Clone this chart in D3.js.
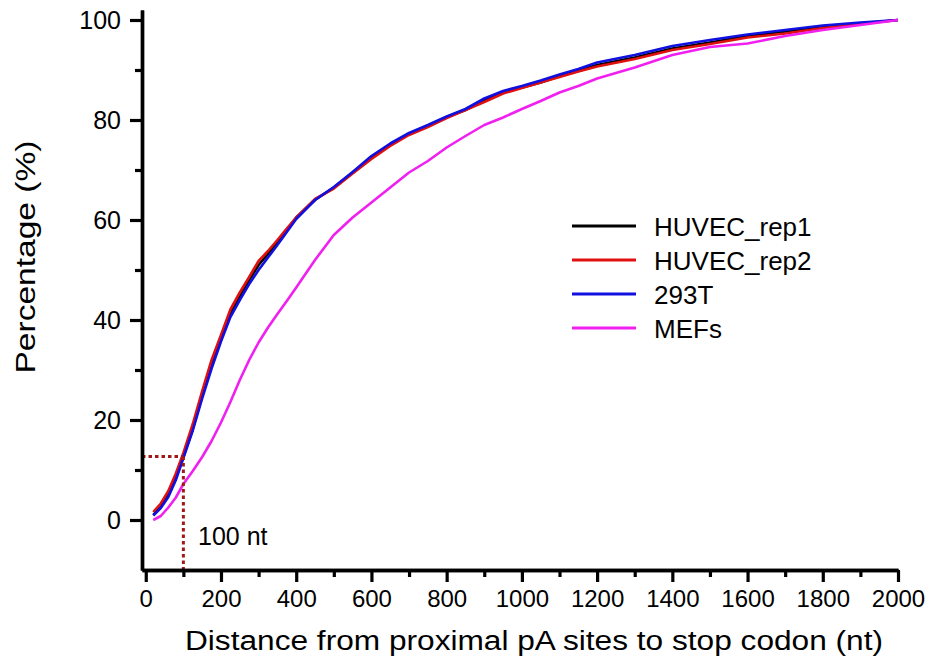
<!DOCTYPE html>
<html>
<head>
<meta charset="utf-8">
<script src="https://cdn.jsdelivr.net/npm/d3@7"></script>
<style>
  body { margin: 0; background: #fff; }
  text { font-family: "Liberation Sans", Arial, sans-serif; fill: #000; }
</style>
</head>
<body>
<script>
var distances = [20, 40, 60, 80, 100, 125, 150, 175, 200, 225, 250, 275, 300, 325, 350, 375, 400,
  450, 500, 550, 600, 650, 700, 750, 800, 850, 900, 950, 1000, 1050, 1100, 1150, 1200,
  1300, 1400, 1500, 1600, 1700, 1800, 1900, 2000];

var huvec1 = [1.0, 2.6, 5.0, 8.5, 12.6, 18.2, 24.8, 31.0, 36.2, 41.3, 44.8, 48.0, 51.0, 53.2, 55.5, 58.0, 60.5,
  64.0, 66.5, 69.5, 72.5, 75.0, 77.2, 78.8, 80.6, 82.0, 84.0, 85.5, 86.5, 87.5, 88.8, 89.8, 91.0,
  92.5, 94.3, 95.5, 96.8, 97.7, 98.7, 99.3, 100];
var huvec2 = [1.6, 3.3, 5.8, 9.3, 13.4, 19.2, 25.8, 32.0, 37.0, 42.1, 45.5, 48.6, 51.8, 53.8, 56.0, 58.3, 60.5,
  64.2, 66.3, 69.3, 72.2, 74.8, 77.0, 78.6, 80.4, 82.0, 83.6, 85.3, 86.4, 87.5, 88.6, 89.7, 90.7,
  92.2, 94.0, 95.2, 96.5, 97.3, 98.4, 99.2, 100];
var t293 = [0.9, 2.4, 4.6, 8.0, 12.4, 17.9, 24.3, 30.3, 35.7, 40.6, 44.0, 47.2, 50.0, 52.5, 55.0, 57.6, 60.2,
  64.0, 66.6, 69.6, 72.8, 75.3, 77.4, 79.0, 80.7, 82.2, 84.3, 85.8, 86.8, 87.9, 89.1, 90.2, 91.5,
  93.0, 94.8, 96.0, 97.1, 98.0, 98.9, 99.5, 100];
var mefs = [0.0, 0.8, 2.5, 4.5, 7.2, 9.8, 12.6, 15.8, 19.5, 23.6, 28.0, 32.0, 35.5, 38.5, 41.2, 43.8, 46.5,
  52.0, 57.0, 60.5, 63.5, 66.5, 69.5, 71.8, 74.5, 76.8, 79.0, 80.5, 82.2, 83.8, 85.5, 86.8, 88.3,
  90.5, 93.0, 94.6, 95.3, 96.8, 98.0, 99.0, 100];

var seriesNames = ["HUVEC_rep1", "HUVEC_rep2", "293T", "MEFs"];
var seriesColors = ["#000000", "#e01010", "#1010e0", "#f020f0"];
var seriesValues = [huvec1, huvec2, t293, mefs];

var xMajor = d3.range(0, 2001, 200);
var xMinor = d3.range(100, 2000, 200);
var yMajor = [0, 20, 40, 60, 80, 100];
var yMinor = [10, 30, 50, 70, 90];

var cutoffX = 100, cutoffY = 12.7;

var width = 935, height = 665;

var svg = d3.select("body").append("svg")
  .attr("width", width)
  .attr("height", height);

var x = d3.scaleLinear().domain([-10, 2000]).range([142, 898]);
var y = d3.scaleLinear().domain([-10, 102]).range([570, 10]);

// curves
var line = d3.line()
  .x(function(d) { return x(d[0]); })
  .y(function(d) { return y(d[1]); });

seriesValues.forEach(function(vals, i) {
  svg.append("path")
    .datum(distances.map(function(d, j) { return [d, vals[j]]; }))
    .attr("fill", "none")
    .attr("stroke", seriesColors[i])
    .attr("stroke-width", 2.6)
    .attr("stroke-linejoin", "round")
    .attr("d", line);
});

// dotted guide at 100 nt
var guide = svg.append("g")
  .attr("stroke", "#a01818")
  .attr("stroke-width", 3)
  .attr("stroke-dasharray", "3.5,3");
guide.append("line")
  .attr("x1", x(-10)).attr("x2", x(cutoffX))
  .attr("y1", y(cutoffY)).attr("y2", y(cutoffY));
guide.append("line")
  .attr("x1", x(cutoffX)).attr("x2", x(cutoffX))
  .attr("y1", y(cutoffY)).attr("y2", y(-10));

svg.append("text")
  .attr("x", 198)
  .attr("y", 545)
  .style("font-size", "25px")
  .text("100 nt");

// axes
function styleAxis(g) {
  g.select(".domain").attr("stroke-width", 3.4).attr("stroke", "#000");
  g.selectAll(".tick line").attr("stroke-width", 3.2).attr("stroke", "#000");
  g.selectAll(".tick text").style("font-family", "'Liberation Sans', Arial, sans-serif").style("fill", "#000");
}

svg.append("g")
  .attr("transform", "translate(0,570)")
  .call(d3.axisBottom(x).tickValues(xMinor).tickSize(7).tickSizeOuter(0).tickFormat(""))
  .call(styleAxis);
svg.append("g")
  .attr("transform", "translate(0,570)")
  .call(d3.axisBottom(x).tickValues(xMajor).tickSize(12).tickSizeOuter(0).tickPadding(8).tickFormat(d3.format("d")))
  .call(styleAxis)
  .selectAll(".tick text").style("font-size", "24px");

svg.append("g")
  .attr("transform", "translate(142,0)")
  .call(d3.axisLeft(y).tickValues(yMinor).tickSize(7).tickSizeOuter(0).tickFormat(""))
  .call(styleAxis);
svg.append("g")
  .attr("transform", "translate(142,0)")
  .call(d3.axisLeft(y).tickValues(yMajor).tickSize(12).tickSizeOuter(0).tickPadding(9).tickFormat(d3.format("d")))
  .call(styleAxis)
  .selectAll(".tick text").style("font-size", "25px");

// axis titles
svg.append("text")
  .attr("x", 534)
  .attr("y", 650)
  .attr("text-anchor", "middle")
  .attr("textLength", 698)
  .attr("lengthAdjust", "spacingAndGlyphs")
  .style("font-size", "27px")
  .text("Distance from proximal pA sites to stop codon (nt)");

svg.append("text")
  .attr("transform", "translate(35,257) rotate(-90)")
  .attr("text-anchor", "middle")
  .attr("textLength", 233)
  .attr("lengthAdjust", "spacingAndGlyphs")
  .style("font-size", "27px")
  .text("Percentage (%)");

// legend
var legend = svg.selectAll(".legend")
  .data(seriesNames)
  .enter().append("g")
  .attr("class", "legend")
  .attr("transform", function(d, i) { return "translate(572," + (226 + i * 34) + ")"; });

legend.append("line")
  .attr("x1", 0).attr("x2", 64)
  .attr("stroke", function(d, i) { return seriesColors[i]; })
  .attr("stroke-width", 3);

legend.append("text")
  .attr("x", 82)
  .attr("y", 10)
  .style("font-size", "26px")
  .text(function(d) { return d; });
</script>
</body>
</html>
